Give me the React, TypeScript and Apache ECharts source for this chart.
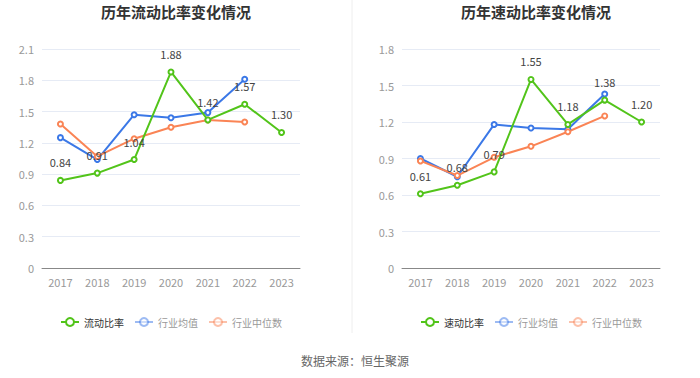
import React, { useEffect, useRef } from "react";
import * as echarts from "echarts";

const years = ["2017", "2018", "2019", "2020", "2021", "2022", "2023"];
const currentRatio = [0.84, 0.91, 1.04, 1.88, 1.42, 1.57, 1.30];
const currentAvg = [1.25, 1.04, 1.47, 1.44, 1.49, 1.81];
const currentMedian = [1.38, 1.07, 1.24, 1.35, 1.42, 1.40];
const quickRatio = [0.61, 0.68, 0.79, 1.55, 1.18, 1.38, 1.20];
const quickAvg = [0.90, 0.75, 1.18, 1.15, 1.14, 1.43];
const quickMedian = [0.88, 0.76, 0.91, 1.0, 1.12, 1.25];

const GREEN = "#52C41A";
const BLUE = "#3B78E7";
const ORANGE = "#FA8455";
const FONT = "'Noto Sans CJK SC', 'Noto Sans', sans-serif";

export default function App() {
  const ref = useRef<HTMLDivElement>(null);
  useEffect(() => {
    if (!ref.current) return;
    const chart = echarts.init(ref.current, undefined, { renderer: "svg" });
    const xAxis = (gi: number) => ({
      type: "category",
      gridIndex: gi,
      data: years,
      boundaryGap: true,
      axisLine: { lineStyle: { color: "#888" } },
      axisTick: { alignWithLabel: true, lineStyle: { color: "#888" } },
      axisLabel: { color: "#999", fontSize: 11, fontFamily: FONT, margin: 8 },
    });
    const yAxis = (gi: number, max: number) => ({
      type: "value",
      gridIndex: gi,
      min: 0,
      max,
      interval: 0.3,
      axisLine: { show: false },
      axisTick: { show: false },
      axisLabel: { color: "#999", fontSize: 11, fontFamily: FONT, margin: 8, formatter: (v: number) => (v === 0 ? "0" : String(Math.round(v * 10) / 10)) },
      splitLine: { lineStyle: { color: "#e6ebf5" } },
    });
    const mainSeries = (name: string, data: number[], gi: number) => ({
      name,
      type: "line",
      xAxisIndex: gi,
      yAxisIndex: gi,
      data,
      symbol: "emptyCircle",
      symbolSize: 5,
      lineStyle: { color: GREEN, width: 2 },
      itemStyle: { color: GREEN },
      label: { show: true, position: "top", distance: 9, color: "#444", fontSize: 11, fontFamily: FONT, formatter: (p: any) => p.value.toFixed(2) },
      z: 3,
    });
    const sub = (name: string, data: number[], gi: number, color: string) => ({
      name,
      type: "line",
      xAxisIndex: gi,
      yAxisIndex: gi,
      data,
      symbol: "emptyCircle",
      symbolSize: 5,
      lineStyle: { color, width: 2 },
      itemStyle: { color },
      z: 2,
    });
    const legendItems = (main: string) => [
      { name: main, textStyle: { color: "#333" } },
      { name: "行业均值", textStyle: { color: "#999" }, itemStyle: { opacity: 0.5 }, lineStyle: { opacity: 0.5 } },
      { name: "行业中位数", textStyle: { color: "#999" }, itemStyle: { opacity: 0.5 }, lineStyle: { opacity: 0.5 } },
    ];
    const legendBase = { top: 317, padding: 0, itemWidth: 18, itemHeight: 10, itemGap: 10, textStyle: { fontSize: 10, fontFamily: FONT }, selectedMode: false };
    chart.setOption({
      animation: false,
      textStyle: { fontFamily: FONT },
      title: [
        { text: "历年流动比率变化情况", left: 171, top: -1, textAlign: "center", textStyle: { fontSize: 15, fontWeight: "bold", color: "#333", fontFamily: FONT } },
        { text: "历年速动比率变化情况", left: 531, top: -1, textAlign: "center", textStyle: { fontSize: 15, fontWeight: "bold", color: "#333", fontFamily: FONT } },
        { text: "数据来源：恒生聚源", left: 350, top: 349, textAlign: "center", textStyle: { fontSize: 12, fontWeight: "normal", color: "#666", fontFamily: FONT } },
      ],
      legend: [
        { ...legendBase, data: legendItems("流动比率"), left: 60 },
        { ...legendBase, data: legendItems("速动比率"), left: 420 },
      ],
      grid: [
        { left: 42, top: 49, width: 258, height: 219 },
        { left: 402, top: 49, width: 258, height: 219 },
      ],
      xAxis: [xAxis(0), xAxis(1)],
      yAxis: [yAxis(0, 2.1), yAxis(1, 1.8)],
      series: [
        mainSeries("流动比率", currentRatio, 0),
        sub("行业均值", currentAvg, 0, BLUE),
        sub("行业中位数", currentMedian, 0, ORANGE),
        mainSeries("速动比率", quickRatio, 1),
        sub("行业均值", quickAvg, 1, BLUE),
        sub("行业中位数", quickMedian, 1, ORANGE),
      ],
      graphic: [
        { type: "line", shape: { x1: 352, y1: 0, x2: 352, y2: 333 }, style: { stroke: "#eeeeee", lineWidth: 1 } },
      ],
    });
    return () => chart.dispose();
  }, []);
  return <div ref={ref} style={{ position: "absolute", left: 0, top: 0, width: 700, height: 378 }} />;
}
